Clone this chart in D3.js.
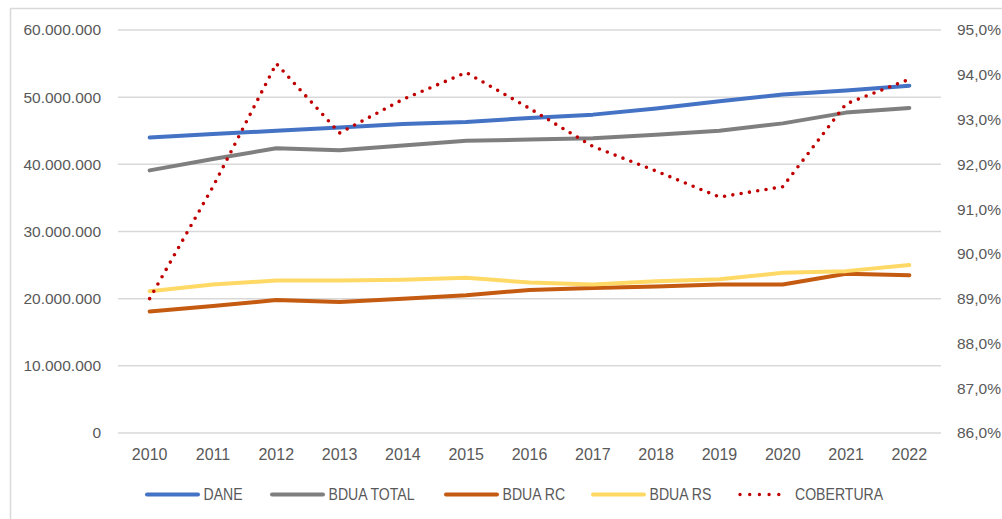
<!DOCTYPE html>
<html>
<head>
<meta charset="utf-8">
<script src="https://cdn.jsdelivr.net/npm/d3@7"></script>
<style>
  body { margin: 0; background: #fff; }
  svg { display: block; }
</style>
</head>
<body>
<svg></svg>
<script>
// Data
const years = ['2010', '2011', '2012', '2013', '2014', '2015', '2016', '2017', '2018', '2019', '2020', '2021', '2022']
const dane = [44.0, 44.5, 45.0, 45.5, 46.0, 46.3, 46.9, 47.4, 48.3, 49.4, 50.4, 51.0, 51.7].map(v => v * 1e6)
const bduaTotal = [39.1, 40.8, 42.4, 42.1, 42.8, 43.5, 43.7, 43.9, 44.4, 45.0, 46.1, 47.7, 48.4].map(v => v * 1e6)
const bduaRC = [18.1, 18.9, 19.8, 19.5, 20.0, 20.5, 21.3, 21.6, 21.8, 22.1, 22.1, 23.7, 23.5].map(v => v * 1e6)
const bduaRS = [21.1, 22.1, 22.7, 22.7, 22.8, 23.1, 22.4, 22.1, 22.6, 22.9, 23.85, 24.1, 25.0].map(v => v * 1e6)
const cobertura = [89.0, 91.5, 94.25, 92.7, 93.45, 94.05, 93.25, 92.4, 91.85, 91.27, 91.5, 93.35, 93.9]
const leftTicks = [0, 1e7, 2e7, 3e7, 4e7, 5e7, 6e7]
const rightTicks = [86, 87, 88, 89, 90, 91, 92, 93, 94, 95]

const series = [
  { name: 'DANE', values: dane, color: '#4472C4', axis: 'left' },
  { name: 'BDUA TOTAL', values: bduaTotal, color: '#7F7F7F', axis: 'left' },
  { name: 'BDUA RC', values: bduaRC, color: '#C55A11', axis: 'left' },
  { name: 'BDUA RS', values: bduaRS, color: '#FFD966', axis: 'left' },
  { name: 'COBERTURA', values: cobertura, color: '#C00000', axis: 'right', dotted: true },
]

// Layout
const width = 1002
const height = 519
const plot = { left: 118, right: 941, top: 30, bottom: 433 }
const font = '"Liberation Sans", Arial, sans-serif'

const svg = d3.select('svg').attr('width', width).attr('height', height)

// Chart border
svg.append('rect')
  .attr('x', 10.5).attr('y', 8.5)
  .attr('width', 1000).attr('height', 520)
  .attr('fill', 'none').attr('stroke', '#d9d9d9').attr('stroke-width', 1.5)

const x = d3.scaleBand().domain(years).range([plot.left, plot.right])
const yLeft = d3.scaleLinear().domain([0, 6e7]).range([plot.bottom, plot.top])
const yRight = d3.scaleLinear().domain([86, 95]).range([plot.bottom, plot.top])

const fmtLeft = v => v === 0 ? '0' : d3.format(',')(v).replace(/,/g, '.')
const fmtRight = v => d3.format('.1f')(v).replace('.', ',') + '%'

// Gridlines
svg.append('g')
  .selectAll('line')
  .data(leftTicks)
  .join('line')
  .attr('x1', plot.left).attr('x2', plot.right)
  .attr('y1', d => yLeft(d)).attr('y2', d => yLeft(d))
  .attr('stroke', '#d9d9d9').attr('stroke-width', 1.5)

// Left axis
const leftAxis = svg.append('g')
  .attr('transform', `translate(${plot.left - 17},0)`)
  .call(d3.axisLeft(yLeft).tickValues(leftTicks).tickFormat(fmtLeft).tickSize(0).tickPadding(0))
leftAxis.select('.domain').remove()
leftAxis.selectAll('text')
  .attr('fill', '#595959')
  .style('font-family', font)
  .style('font-size', '15.5px')

// Right axis
const rightAxis = svg.append('g')
  .attr('transform', `translate(957,0)`)
  .call(d3.axisRight(yRight).tickValues(rightTicks).tickFormat(fmtRight).tickSize(0).tickPadding(0))
rightAxis.select('.domain').remove()
rightAxis.selectAll('text')
  .attr('fill', '#595959')
  .style('font-family', font)
  .style('font-size', '15.5px')

// Bottom axis
const bottomAxis = svg.append('g')
  .attr('transform', `translate(0,${plot.bottom})`)
  .call(d3.axisBottom(x).tickSize(0).tickPadding(16))
bottomAxis.select('.domain').remove()
bottomAxis.selectAll('text')
  .attr('fill', '#595959')
  .style('font-family', font)
  .style('font-size', '16px')

// Lines
const xc = d => x(d) + x.bandwidth() / 2
series.forEach(s => {
  const y = s.axis === 'left' ? yLeft : yRight
  const line = d3.line().x((d, i) => xc(years[i])).y(d => y(d))
  svg.append('path')
    .datum(s.values)
    .attr('d', line)
    .attr('fill', 'none')
    .attr('stroke', s.color)
    .attr('stroke-width', s.dotted ? 3.6 : 4)
    .attr('stroke-linecap', 'round')
    .attr('stroke-linejoin', 'round')
    .attr('stroke-dasharray', s.dotted ? '0 8.4' : null)
})

// Legend
const legendX = [147, 272, 446, 593, 740]
const legend = svg.append('g')
  .selectAll('g')
  .data(series)
  .join('g')
  .attr('transform', (d, i) => `translate(${legendX[i]},494.5)`)
legend.append('line')
  .attr('x1', 0).attr('x2', d => d.dotted ? 48.5 : 51)
  .attr('stroke', d => d.color)
  .attr('stroke-width', d => d.dotted ? 3.4 : 4)
  .attr('stroke-linecap', 'round')
  .attr('stroke-dasharray', d => d.dotted ? '0 9.7' : null)
legend.append('text')
  .attr('transform', d => `translate(${d.dotted ? 55 : 56.5},0) scale(0.88,1)`)
  .attr('dy', '0.35em')
  .attr('fill', '#595959')
  .style('font-family', font)
  .style('font-size', '16px')
  .text(d => d.name)
</script>
</body>
</html>
